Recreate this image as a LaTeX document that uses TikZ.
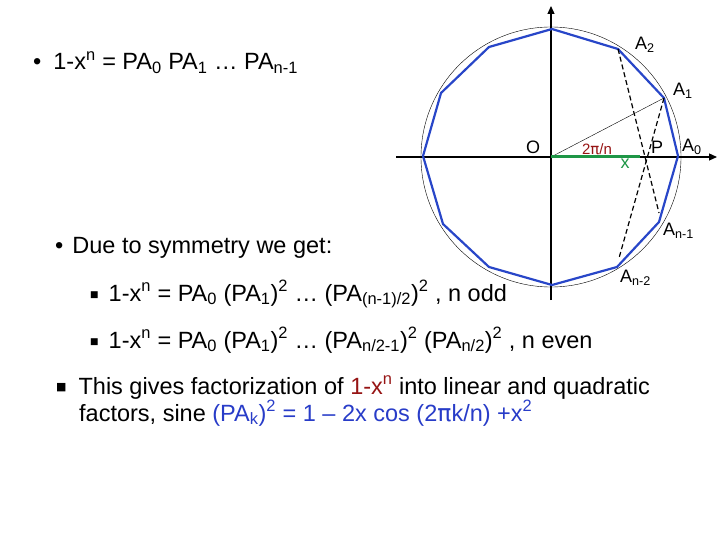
\documentclass[tikz,border=0pt]{standalone}
\usepackage{fontspec}
\setmainfont{Liberation Sans}
\newfontfamily\dv{DejaVu Sans}
\usetikzlibrary{arrows.meta}
\definecolor{polyblue}{RGB}{40,70,200}
\definecolor{txtblue}{RGB}{40,60,200}
\definecolor{darkred}{RGB}{150,20,20}
\definecolor{grn}{RGB}{30,150,70}
\newcommand{\sbb}[1]{\textsubscript{#1}}
\newcommand{\spp}[1]{\textsuperscript{#1}}
\newcommand{\sq}{\raisebox{4pt}{\dv\fontsize{9}{9}\selectfont ■}}
\begin{document}
\begin{tikzpicture}[x=1pt,y=-1pt,
  txt/.style={anchor=base west,inner sep=0pt,font=\fontsize{23.5}{28}\selectfont},
  lbl/.style={inner sep=0pt,font=\fontsize{18}{20}\selectfont},
  dsh/.style={dashed,dash pattern=on 5pt off 3pt,line width=1.2pt}]
\useasboundingbox (0,0) rectangle (720,540);
\coordinate (O) at (551,157);
\draw[thin] (O) circle[radius=130];
\draw[line width=1.2pt,-{Triangle[length=8pt,width=7pt]}] (396,157) -- (717,157);
\draw[line width=1.2pt,-{Triangle[length=8pt,width=7pt]}] (551,300) -- (551,6);
\coordinate (A0) at (678,156);
\coordinate (A1) at (664,98);
\coordinate (A2) at (618,49);
\coordinate (An1) at (659,222);
\coordinate (An2) at (617,267);
\coordinate (P) at (640,157);
\draw[polyblue,line width=2.2pt,line join=round] (552,29) -- (489,47) -- (441,93) -- (423,156) -- (443,224) -- (489,267) -- (552,285) -- (An2) -- (An1) -- (A0) -- (A1) -- (A2) -- cycle;
\draw[dsh] (A2) -- (659,213);
\draw[dsh] (A1) -- (619,258);
\draw[thin] (O) -- (A1);
\draw[grn,line width=3pt] (O) -- (P);
\node[lbl] (o) at (533,147) {O};
\node[lbl] (p) at (657,147) {P};
\node[lbl,grn] (x) at (625,164) {x};
\node[lbl,darkred,font=\fontsize{15}{16}\selectfont] (ang) at (597,149) {2{\dv π}/n};
\node[lbl,anchor=west] (a0) at (682,147) {A\sbb{0}};
\node[lbl,anchor=west] (a1) at (673,91) {A\sbb{1}};
\node[lbl,anchor=west] (a2) at (635,45) {A\sbb{2}};
\node[lbl,anchor=west] (an1) at (663,231) {A\sbb{n-1}};
\node[lbl,anchor=west] (an2) at (620,278) {A\sbb{n-2}};
\node[txt] (t1) at (33,70) {•\hspace{12pt}1-x\spp{n} = PA\sbb{0} PA\sbb{1} … PA\sbb{n-1}};
\node[txt] (t2) at (55,254) {•\hspace{9pt}Due to symmetry we get:};
\node[txt] (t3) at (90,301) {\sq\hspace{10pt}1-x\spp{n} = PA\sbb{0} (PA\sbb{1})\spp{2} … (PA\sbb{(n-1)/2})\spp{2} , n odd};
\node[txt] (t4) at (90,348) {\sq\hspace{10pt}1-x\spp{n} = PA\sbb{0} (PA\sbb{1})\spp{2} … (PA\sbb{n/2-1})\spp{2} (PA\sbb{n/2})\spp{2} , n even};
\node[txt] (t5) at (56,394) {\raisebox{4pt}{\dv\fontsize{11}{11}\selectfont ■}\hspace{12pt}This gives factorization of {\color{darkred}1-x\spp{n}} into linear and quadratic};
\node[txt] (t6) at (79,421) {factors, sine {\color{txtblue}(PA\sbb{k})\spp{2} = 1 – 2x cos (2{\dv π}k/n) +x\spp{2}}};
\end{tikzpicture}
\end{document}
